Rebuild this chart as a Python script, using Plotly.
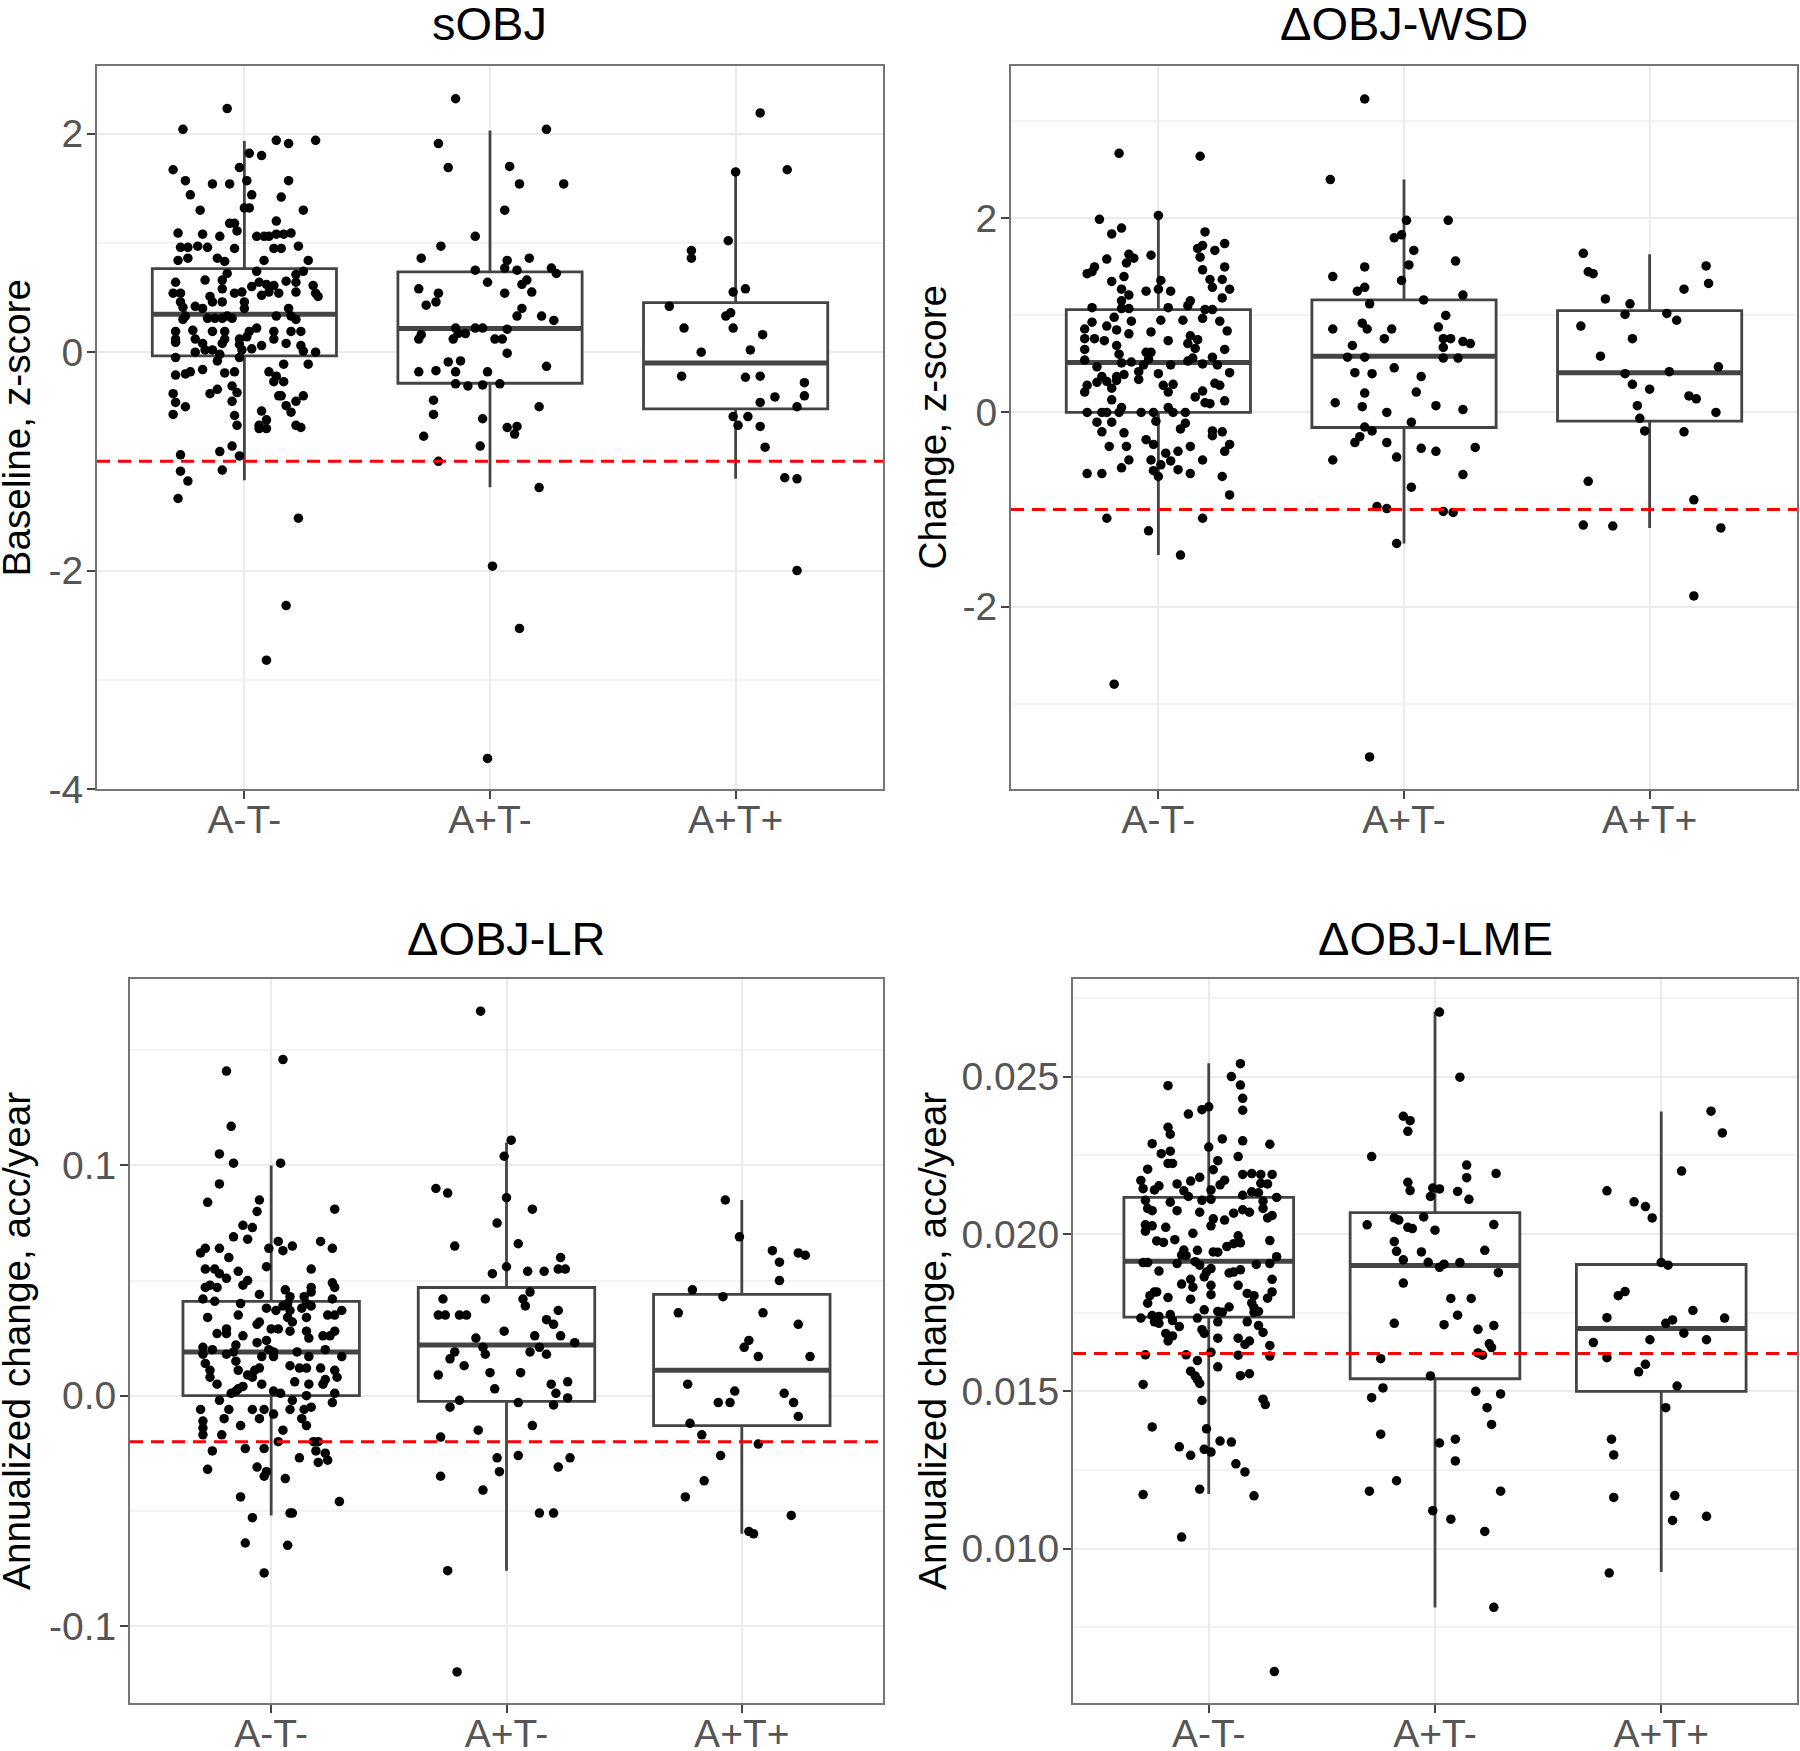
import plotly.graph_objects as go

GROUPS = ["A-T-", "A+T-", "A+T+"]

# sOBJ: baseline z-score
sobj_x1 = [0.93,0.75,1.13,1.18,1.29,1.02,1.07,0.98,0.71,0.76,0.87,0.94,1.01,1.18,0.78,1.03,1.15,0.82,1.00,1.02,1.24,1.13,0.94,0.96,0.97,0.73,0.83,0.90,1.05,1.08,1.10,1.13,1.16,1.19,0.74,0.77,0.81,0.85,0.96,1.12,1.15,1.22,0.77,0.73,0.89,0.92,1.08,1.26,0.93,1.05,1.24,1.21,0.72,0.84,0.91,1.06,1.09,1.12,1.17,1.21,1.28,1.03,0.91,0.71,0.74,0.86,0.96,0.99,1.10,1.14,1.21,1.29,1.30,0.74,0.87,0.91,1.00,1.07,0.75,0.80,0.83,1.00,1.18,0.76,0.85,0.88,0.91,0.93,0.95,1.13,1.19,1.21,0.75,0.72,0.79,0.87,0.92,1.02,1.05,1.12,1.19,1.23,0.72,0.80,0.92,0.98,1.01,1.12,0.72,0.83,0.91,0.98,1.07,1.17,1.23,0.80,0.84,0.87,0.90,0.99,1.03,1.24,1.29,0.72,0.89,0.98,1.16,1.26,0.72,0.76,0.78,0.83,0.92,0.96,1.10,1.13,1.12,1.16,0.71,0.86,0.89,0.95,0.97,1.14,1.15,1.24,0.72,0.76,0.95,1.17,1.21,1.07,1.19,0.71,0.96,1.09,0.97,1.06,1.09,1.21,1.23,1.06,0.95,0.90,0.98,0.74,0.74,0.91,0.77,0.73,1.22,1.17,1.09]
sobj_y1 = [2.23,2.04,1.94,1.91,1.94,1.82,1.80,1.69,1.67,1.57,1.54,1.54,1.57,1.57,1.44,1.44,1.42,1.30,1.32,1.32,1.30,1.20,1.18,1.18,1.11,1.09,1.08,1.06,1.06,1.06,1.06,1.08,1.08,1.09,0.96,0.96,0.97,0.96,0.95,0.95,0.95,0.97,0.86,0.84,0.86,0.83,0.84,0.84,0.72,0.74,0.74,0.71,0.64,0.66,0.66,0.64,0.62,0.61,0.65,0.64,0.61,0.60,0.58,0.54,0.54,0.51,0.54,0.55,0.55,0.54,0.55,0.54,0.51,0.46,0.46,0.46,0.46,0.52,0.41,0.42,0.40,0.40,0.40,0.33,0.31,0.31,0.31,0.33,0.31,0.33,0.33,0.30,0.30,0.19,0.20,0.19,0.19,0.19,0.22,0.19,0.19,0.19,0.12,0.12,0.12,0.12,0.14,0.12,0.09,0.08,0.08,0.07,0.06,0.08,0.06,0.00,0.02,0.02,-0.02,0.02,0.03,0.01,0.00,-0.05,-0.08,-0.05,-0.11,-0.11,-0.21,-0.20,-0.18,-0.16,-0.19,-0.18,-0.18,-0.22,-0.27,-0.27,-0.38,-0.38,-0.34,-0.31,-0.37,-0.40,-0.40,-0.40,-0.46,-0.50,-0.45,-0.49,-0.45,-0.54,-0.55,-0.57,-0.58,-0.62,-0.67,-0.67,-0.70,-0.67,-0.69,-0.70,-0.86,-0.91,-0.95,-0.94,-1.09,-1.08,-1.18,-1.34,-1.52,-2.32,-2.82]
sobj_x2 = [1.86,2.23,1.79,1.83,2.08,2.12,2.30,2.06,1.94,1.80,1.72,2.07,2.16,1.94,2.06,2.11,2.25,2.27,1.99,2.15,2.13,1.71,1.79,2.06,2.17,1.78,1.74,2.13,2.11,2.21,2.26,1.94,1.97,1.86,2.07,1.72,1.71,1.87,1.90,1.85,2.02,2.05,2.07,1.83,1.88,1.71,1.78,1.86,1.99,2.23,1.86,1.91,1.97,2.04,1.77,1.77,2.20,1.97,2.07,2.11,2.10,1.73,1.96,1.79,2.20,2.01,2.12,1.99]
sobj_y2 = [2.32,2.04,1.91,1.69,1.70,1.54,1.54,1.30,1.06,0.97,0.86,0.84,0.86,0.75,0.77,0.75,0.77,0.72,0.64,0.66,0.62,0.58,0.54,0.54,0.55,0.46,0.43,0.40,0.33,0.33,0.29,0.22,0.22,0.22,0.21,0.16,0.12,0.17,0.17,0.12,0.12,0.12,-0.01,-0.09,-0.08,-0.18,-0.17,-0.18,-0.18,-0.13,-0.29,-0.31,-0.30,-0.29,-0.44,-0.57,-0.50,-0.61,-0.69,-0.68,-0.75,-0.77,-0.86,-1.00,-1.24,-1.96,-2.53,-3.72]
sobj_x3 = [3.10,3.21,3.00,2.97,2.82,2.82,2.99,3.04,2.73,2.98,2.96,2.79,2.99,3.11,2.86,3.06,2.78,3.04,3.10,3.28,3.28,3.16,3.10,3.25,2.99,3.05,3.01,3.10,3.12,3.20,3.25,3.25]
sobj_y3 = [2.19,1.67,1.65,1.02,0.93,0.86,0.55,0.58,0.42,0.36,0.33,0.22,0.22,0.16,0.00,0.02,-0.22,-0.23,-0.22,-0.28,-0.40,-0.41,-0.46,-0.50,-0.59,-0.59,-0.67,-0.68,-0.87,-1.15,-1.16,-2.00]
sobj_q1 = [-0.035, -0.285, -0.519]
sobj_median = [0.346, 0.216, -0.10]
sobj_q3 = [0.765, 0.735, 0.454]
sobj_low = [-1.172, -1.237, -1.159]
sobj_high = [1.933, 2.03, 1.652]

# dOBJ-WSD: change, z-score
wsd_x1 = [0.84,1.17,1.00,0.76,0.85,0.81,1.19,1.27,1.16,1.18,1.23,1.17,0.88,0.90,0.87,0.97,0.79,0.74,0.71,0.73,1.27,1.18,0.86,0.81,1.01,1.21,1.26,1.22,1.29,0.85,0.95,1.00,1.05,0.88,1.26,0.85,1.13,1.12,0.73,0.85,0.88,1.04,1.19,1.22,0.82,0.89,1.01,1.10,1.18,1.25,0.73,0.79,0.70,0.83,0.97,0.88,1.28,0.70,0.74,0.78,1.04,1.13,1.12,1.16,0.83,0.70,1.27,1.15,0.95,0.97,0.84,0.96,1.22,1.14,0.70,0.85,0.89,1.12,1.05,1.18,1.24,0.75,0.94,0.92,0.86,1.00,1.29,0.77,0.83,0.92,0.79,0.83,0.75,0.71,1.02,1.06,1.23,1.25,0.70,0.81,1.04,1.18,1.15,0.81,1.19,1.21,1.27,0.85,0.71,0.77,0.79,0.84,0.93,0.98,1.04,1.06,1.11,0.99,0.75,0.81,1.11,1.09,0.77,0.86,1.22,1.26,1.22,0.95,0.80,0.87,0.98,1.13,1.29,1.08,1.27,1.03,0.88,0.97,1.18,1.05,1.01,0.85,0.98,1.08,0.71,0.77,1.00,1.13,1.26,1.29,0.79,1.18,0.96,1.09,0.82]
wsd_y1 = [2.67,2.64,2.03,1.99,1.90,1.84,1.86,1.74,1.69,1.72,1.67,1.60,1.63,1.59,1.54,1.62,1.58,1.50,1.43,1.45,1.50,1.47,1.40,1.35,1.36,1.37,1.37,1.29,1.27,1.27,1.25,1.27,1.25,1.21,1.18,1.15,1.15,1.10,1.08,1.07,1.07,1.08,1.06,1.06,0.98,0.94,0.95,0.95,0.97,0.94,0.93,0.89,0.86,0.85,0.83,0.81,0.84,0.76,0.76,0.74,0.74,0.79,0.71,0.75,0.69,0.65,0.65,0.66,0.62,0.62,0.60,0.55,0.57,0.56,0.54,0.51,0.52,0.53,0.49,0.50,0.49,0.47,0.49,0.42,0.39,0.40,0.41,0.37,0.37,0.34,0.32,0.33,0.31,0.28,0.28,0.29,0.30,0.28,0.21,0.25,0.21,0.22,0.16,0.13,0.10,0.09,0.12,0.05,0.00,0.00,0.00,0.00,0.00,0.00,0.05,0.00,0.00,-0.09,-0.10,-0.10,-0.11,-0.17,-0.20,-0.21,-0.19,-0.20,-0.24,-0.28,-0.35,-0.35,-0.33,-0.35,-0.33,-0.40,-0.40,-0.42,-0.49,-0.49,-0.49,-0.50,-0.54,-0.57,-0.60,-0.59,-0.63,-0.63,-0.66,-0.63,-0.66,-0.85,-1.09,-1.09,-1.22,-1.47,-2.80]
wsd_x2 = [1.84,1.70,2.01,2.18,1.96,1.99,2.04,2.21,2.02,1.84,1.71,1.99,1.81,1.84,2.24,1.86,2.08,2.17,1.83,1.85,1.71,1.95,2.14,1.92,2.16,2.19,2.24,2.27,1.79,2.16,1.77,1.84,2.16,2.22,1.96,1.80,1.87,2.07,2.05,1.84,1.72,1.83,2.13,2.24,1.93,2.03,1.84,1.87,1.82,1.80,1.93,2.07,2.13,2.29,1.71,1.97,2.24,2.03,1.89,1.93,2.16,2.20,1.97,1.86]
wsd_y2 = [3.23,2.40,1.98,1.98,1.80,1.83,1.67,1.56,1.52,1.50,1.40,1.36,1.25,1.29,1.21,1.12,1.16,1.00,0.92,0.86,0.86,0.86,0.88,0.76,0.76,0.76,0.73,0.71,0.69,0.67,0.57,0.57,0.56,0.56,0.46,0.41,0.40,0.37,0.21,0.20,0.10,0.06,0.07,0.03,0.00,-0.10,-0.15,-0.19,-0.25,-0.31,-0.31,-0.37,-0.40,-0.36,-0.49,-0.46,-0.64,-0.77,-0.97,-0.99,-1.02,-1.03,-1.35,-3.55]
wsd_x3 = [2.73,3.23,2.75,2.77,3.24,3.14,2.82,2.92,2.90,3.07,3.11,2.72,2.93,2.80,3.28,2.90,3.08,2.93,3.00,3.16,3.19,2.95,3.27,2.96,2.98,3.14,2.75,3.18,2.73,2.85,3.29,3.18]
wsd_y3 = [1.64,1.51,1.45,1.43,1.33,1.27,1.17,1.12,1.01,1.02,0.95,0.89,0.76,0.58,0.47,0.40,0.42,0.29,0.24,0.17,0.14,0.07,0.00,-0.06,-0.19,-0.20,-0.71,-0.90,-1.16,-1.17,-1.19,-1.89]
wsd_q1 = [0.0, -0.155, -0.09]
wsd_median = [0.515, 0.58, 0.41]
wsd_q3 = [1.06, 1.16, 1.05]
wsd_low = [-1.47, -1.35, -1.19]
wsd_high = [2.02, 2.40, 1.63]

# dOBJ-LR: annualized change, acc/year
lr_x1 = [1.05,0.81,0.83,0.78,0.84,1.04,0.78,0.73,0.95,1.27,0.94,0.88,0.92,0.84,0.90,1.21,1.03,1.09,0.72,0.70,0.78,0.99,1.05,1.26,0.82,0.72,0.76,0.86,0.98,1.17,0.78,0.81,0.90,0.88,0.72,0.74,0.77,1.26,1.27,1.17,1.06,0.95,1.17,0.71,1.08,1.14,1.26,0.76,0.87,1.07,1.15,1.05,0.98,1.02,1.08,1.13,1.17,1.30,0.86,1.24,1.27,0.73,0.95,1.07,1.15,0.94,1.09,1.08,0.77,0.81,0.81,0.88,1.00,1.03,1.15,1.22,1.25,1.27,0.94,1.16,0.98,0.85,0.71,0.75,0.84,0.99,1.01,1.23,0.81,0.71,0.96,1.01,1.11,1.16,1.30,0.72,0.85,1.08,0.74,0.95,0.86,0.93,1.12,1.15,1.21,1.27,0.90,0.92,0.74,1.28,0.77,0.96,1.10,1.16,1.23,1.22,0.85,0.86,0.83,0.88,1.01,1.04,1.15,1.27,0.78,1.09,1.26,0.70,0.82,0.92,0.97,1.01,1.08,1.14,1.17,0.71,0.80,0.95,1.13,0.71,0.87,1.15,1.05,0.71,0.79,0.89,0.97,1.03,1.18,1.20,0.75,1.19,1.23,1.12,1.24,1.20,0.73,0.94,0.98,0.97,1.06,0.87,1.29,1.08,1.09,0.92,0.89,1.07,0.97]
lr_y1 = [0.146,0.141,0.117,0.105,0.101,0.101,0.092,0.084,0.085,0.081,0.080,0.074,0.073,0.069,0.068,0.067,0.067,0.065,0.064,0.062,0.064,0.064,0.063,0.064,0.060,0.055,0.055,0.054,0.056,0.055,0.053,0.051,0.050,0.048,0.047,0.048,0.047,0.049,0.047,0.047,0.046,0.044,0.045,0.042,0.043,0.043,0.042,0.041,0.040,0.040,0.040,0.039,0.038,0.037,0.037,0.038,0.039,0.037,0.035,0.035,0.035,0.034,0.032,0.034,0.034,0.031,0.032,0.028,0.027,0.029,0.027,0.026,0.029,0.029,0.028,0.026,0.026,0.028,0.023,0.025,0.024,0.022,0.021,0.020,0.019,0.020,0.019,0.020,0.018,0.018,0.017,0.017,0.019,0.017,0.017,0.014,0.015,0.013,0.011,0.012,0.011,0.011,0.012,0.012,0.012,0.011,0.009,0.008,0.008,0.008,0.005,0.005,0.006,0.005,0.007,0.005,0.002,0.003,0.001,0.004,0.002,0.001,0.000,0.001,-0.002,-0.002,-0.003,-0.006,-0.006,-0.006,-0.006,-0.008,-0.006,-0.006,-0.005,-0.011,-0.010,-0.010,-0.010,-0.014,-0.013,-0.013,-0.015,-0.017,-0.017,-0.023,-0.023,-0.020,-0.020,-0.020,-0.024,-0.024,-0.025,-0.027,-0.028,-0.029,-0.032,-0.031,-0.033,-0.035,-0.036,-0.044,-0.046,-0.051,-0.051,-0.053,-0.064,-0.065,-0.077]
lr_x2 = [1.89,2.02,1.99,1.70,1.75,2.00,2.11,1.96,2.05,1.78,2.23,2.00,1.94,2.09,2.16,2.22,2.25,2.10,1.73,1.91,2.07,2.08,2.22,1.71,1.74,1.80,1.83,2.17,2.20,1.99,2.12,2.23,1.87,2.29,1.78,1.90,1.91,2.10,2.14,2.17,1.76,1.82,2.06,1.93,1.71,1.95,2.19,2.26,2.21,2.26,1.80,1.76,2.05,2.20,2.11,1.88,1.72,1.96,2.05,2.27,2.22,1.97,1.72,1.90,2.14,2.20,1.75,1.79]
lr_y2 = [0.167,0.111,0.104,0.090,0.088,0.086,0.081,0.075,0.066,0.065,0.060,0.056,0.053,0.054,0.054,0.055,0.055,0.045,0.042,0.042,0.042,0.039,0.037,0.035,0.035,0.035,0.035,0.033,0.031,0.028,0.026,0.026,0.025,0.023,0.019,0.021,0.018,0.019,0.021,0.018,0.016,0.013,0.010,0.010,0.009,0.003,0.005,0.006,0.001,-0.001,-0.002,-0.005,-0.003,-0.004,-0.013,-0.015,-0.018,-0.027,-0.026,-0.027,-0.031,-0.033,-0.035,-0.041,-0.051,-0.051,-0.076,-0.120]
lr_x3 = [2.93,2.99,3.13,3.24,3.27,3.16,3.16,2.79,2.92,2.73,3.09,3.24,3.03,3.01,3.07,3.29,2.77,2.97,3.18,2.90,2.95,3.22,3.24,2.78,2.83,3.07,2.91,2.84,2.76,3.21,3.03,3.05]
lr_y3 = [0.085,0.069,0.063,0.062,0.061,0.058,0.050,0.046,0.043,0.036,0.036,0.031,0.024,0.021,0.017,0.017,0.005,0.002,0.001,-0.003,-0.003,-0.003,-0.009,-0.012,-0.017,-0.021,-0.026,-0.037,-0.044,-0.052,-0.059,-0.060]
lr_q1 = [0.0, -0.0025, -0.013]
lr_median = [0.019, 0.022, 0.011]
lr_q3 = [0.041, 0.047, 0.044]
lr_low = [-0.052, -0.076, -0.060]
lr_high = [0.100, 0.110, 0.085]

# dOBJ-LME: annualized change, acc/year
lme_x1 = [1.14,1.10,0.82,1.14,1.15,1.00,0.97,1.15,0.91,0.82,0.83,1.06,1.15,0.75,1.27,1.00,0.83,0.79,1.13,1.04,0.82,0.84,0.73,1.02,1.15,1.19,1.23,1.28,0.96,0.92,1.07,0.70,0.86,1.05,1.23,1.26,0.78,0.71,0.76,1.01,0.89,1.19,1.22,0.91,1.15,0.97,1.01,1.30,0.72,0.83,1.24,0.73,0.75,0.86,0.96,1.15,1.18,1.24,1.11,1.28,1.26,1.02,1.07,0.72,0.75,0.81,1.01,0.72,0.93,0.77,0.80,0.85,1.13,1.14,1.11,1.27,1.08,0.89,0.95,1.02,1.04,0.88,0.90,1.30,0.71,0.73,0.86,0.94,0.96,1.21,1.27,0.78,1.01,0.99,0.98,1.09,1.11,1.14,1.28,0.92,0.88,1.01,1.13,0.93,0.76,0.77,0.74,1.01,1.17,1.20,1.28,0.82,0.92,1.26,0.73,1.19,1.20,0.98,1.09,1.04,1.06,1.22,1.20,0.70,0.75,0.78,0.83,0.95,0.76,0.78,0.84,1.04,1.17,0.87,1.22,0.97,0.98,0.81,1.24,0.84,0.82,1.04,1.13,1.18,1.16,1.27,0.72,0.90,1.01,1.13,1.27,0.95,1.04,0.92,0.94,1.14,1.18,0.95,0.96,0.71,0.97,1.24,1.25,0.75,0.99,1.05,1.10,0.87,0.98,1.01,0.92,1.12,1.16,0.96,0.71,1.20,0.88,1.29]
lme_y1 = [0.02541,0.02500,0.02471,0.02473,0.02431,0.02404,0.02395,0.02393,0.02381,0.02339,0.02317,0.02302,0.02296,0.02287,0.02285,0.02276,0.02263,0.02255,0.02246,0.02233,0.02224,0.02224,0.02206,0.02204,0.02189,0.02192,0.02189,0.02189,0.02180,0.02168,0.02171,0.02170,0.02159,0.02156,0.02161,0.02159,0.02153,0.02144,0.02140,0.02140,0.02137,0.02134,0.02131,0.02119,0.02123,0.02107,0.02110,0.02116,0.02107,0.02101,0.02104,0.02081,0.02074,0.02074,0.02069,0.02077,0.02069,0.02081,0.02066,0.02059,0.02051,0.02048,0.02044,0.02029,0.02026,0.02021,0.02026,0.02009,0.02002,0.01978,0.01973,0.01982,0.01994,0.01972,0.01969,0.01979,0.01960,0.01949,0.01948,0.01943,0.01942,0.01933,0.01931,0.01928,0.01909,0.01909,0.01906,0.01912,0.01901,0.01903,0.01906,0.01882,0.01890,0.01879,0.01864,0.01876,0.01879,0.01886,0.01856,0.01856,0.01841,0.01837,0.01837,0.01831,0.01816,0.01816,0.01804,0.01807,0.01811,0.01804,0.01816,0.01798,0.01793,0.01796,0.01780,0.01781,0.01766,0.01759,0.01768,0.01754,0.01751,0.01754,0.01751,0.01733,0.01741,0.01738,0.01744,0.01733,0.01721,0.01716,0.01725,0.01721,0.01721,0.01706,0.01709,0.01696,0.01684,0.01684,0.01687,0.01676,0.01660,0.01669,0.01669,0.01660,0.01649,0.01646,0.01616,0.01616,0.01624,0.01615,0.01612,0.01598,0.01578,0.01564,0.01549,0.01550,0.01556,0.01537,0.01525,0.01522,0.01471,0.01475,0.01458,0.01387,0.01381,0.01342,0.01339,0.01324,0.01316,0.01307,0.01297,0.01270,0.01244,0.01189,0.01172,0.01168,0.01037,0.00610]
lme_x2 = [2.02,2.11,1.86,1.89,1.88,1.72,2.14,2.27,2.14,1.88,1.89,1.99,2.02,2.10,1.98,2.15,1.82,1.84,1.95,1.70,1.88,1.90,2.00,2.26,1.82,1.83,1.94,2.22,1.86,1.97,2.04,2.11,2.02,2.28,1.86,2.07,2.16,2.10,1.82,2.04,2.26,2.19,2.24,2.25,2.19,2.21,1.76,1.98,1.77,2.18,2.29,1.72,2.23,2.25,1.76,2.09,2.02,2.09,1.83,1.71,2.29,1.99,2.07,2.22,2.26]
lme_y2 = [0.02705,0.02498,0.02374,0.02360,0.02326,0.02246,0.02219,0.02192,0.02179,0.02164,0.02138,0.02146,0.02143,0.02135,0.02119,0.02110,0.02051,0.02044,0.02054,0.02029,0.02021,0.02017,0.02012,0.02030,0.01976,0.01945,0.01943,0.01948,0.01918,0.01910,0.01904,0.01909,0.01894,0.01877,0.01844,0.01795,0.01795,0.01742,0.01716,0.01712,0.01709,0.01697,0.01651,0.01639,0.01622,0.01615,0.01604,0.01549,0.01511,0.01500,0.01492,0.01480,0.01448,0.01395,0.01364,0.01348,0.01336,0.01279,0.01216,0.01183,0.01183,0.01121,0.01094,0.01055,0.00814]
lme_x3 = [3.22,3.27,3.09,2.76,2.88,2.93,2.96,3.00,3.03,2.84,2.81,2.76,3.14,3.28,3.05,3.02,3.10,2.95,3.20,2.70,2.76,2.93,2.90,3.07,3.02,2.78,2.79,2.79,3.06,3.20,3.05,2.77]
lme_y3 = [0.02390,0.02321,0.02200,0.02137,0.02102,0.02087,0.02051,0.01909,0.01901,0.01817,0.01804,0.01734,0.01757,0.01733,0.01727,0.01716,0.01685,0.01664,0.01664,0.01655,0.01607,0.01586,0.01562,0.01517,0.01448,0.01348,0.01298,0.01163,0.01169,0.01103,0.01090,0.00923]
lme_q1 = [0.01736, 0.0154, 0.0150]
lme_median = [0.01913, 0.0190, 0.0170]
lme_q3 = [0.02116, 0.02068, 0.01903]
lme_low = [0.01174, 0.00813, 0.00926]
lme_high = [0.02542, 0.02705, 0.02389]

WIDTH = 1800
HEIGHT = 1751
BOX_WIDTH = 0.75
LINE_COLOR = "#444444"
BORDER_COLOR = "#757575"
GRID_COLOR = "#ebebeb"
TICK_COLOR = "#555555"
FONT = "Liberation Sans"


def add_panel(fig, n, pixels, title, title_y, ytitle, ytitle_x, yrange, cut, major, labels, minor,
              xs, ys, q1, median, q3, low, high):
    left, right, top, bottom = pixels
    xaxis = "x" + str(n)
    yaxis = "y" + str(n)

    for i in range(3):
        fig.add_trace(go.Box(
            x=[i + 1], q1=[q1[i]], median=[median[i]], q3=[q3[i]],
            lowerfence=[low[i]], upperfence=[high[i]],
            width=BOX_WIDTH, whiskerwidth=0, boxpoints=False,
            fillcolor="white", line=dict(color=LINE_COLOR, width=2.8),
            xaxis=xaxis, yaxis=yaxis, showlegend=False,
        ))
        # ggplot draws the median heavier than the box outline
        fig.add_trace(go.Scatter(
            x=[i + 1 - BOX_WIDTH / 2, i + 1 + BOX_WIDTH / 2], y=[median[i], median[i]],
            mode="lines", line=dict(color=LINE_COLOR, width=5),
            xaxis=xaxis, yaxis=yaxis, showlegend=False,
        ))
        fig.add_trace(go.Scatter(
            x=xs[i], y=ys[i], mode="markers",
            marker=dict(color="black", size=9.5),
            xaxis=xaxis, yaxis=yaxis, showlegend=False,
        ))

    fig.add_trace(go.Scatter(
        x=[0.4, 3.6], y=[cut, cut], mode="lines",
        line=dict(color="#ff0000", width=3, dash="13px,8px"),
        xaxis=xaxis, yaxis=yaxis, showlegend=False,
    ))

    axis_style = dict(
        showline=True, mirror=True, linecolor=BORDER_COLOR, linewidth=2,
        ticks="outside", ticklen=8, tickwidth=2, tickcolor=LINE_COLOR,
        tickfont=dict(family=FONT, size=39, color=TICK_COLOR),
        showgrid=True, gridcolor=GRID_COLOR, gridwidth=2, zeroline=False, automargin=False,
    )
    fig.update_layout({
        "xaxis" + str(n): dict(
            axis_style, domain=[left / WIDTH, right / WIDTH], range=[0.4, 3.6],
            anchor=yaxis, tickvals=[1, 2, 3], ticktext=GROUPS, ticklabelstandoff=-13,
        ),
        "yaxis" + str(n): dict(
            axis_style, domain=[1 - bottom / HEIGHT, 1 - top / HEIGHT], range=yrange,
            anchor=xaxis, tickvals=major, ticktext=labels, ticklabelstandoff=-4,
            minor=dict(tickvals=minor, showgrid=True, gridcolor="#f2f2f2", gridwidth=2, ticks=""),
        ),
    })

    fig.add_annotation(
        text=title, xref="paper", yref="paper", showarrow=False,
        xanchor="center", yanchor="middle",
        x=(left + right) / 2 / WIDTH, y=1 - title_y / HEIGHT,
        font=dict(family=FONT, size=47, color="black"),
    )
    fig.add_annotation(
        text=ytitle, xref="paper", yref="paper", showarrow=False, textangle=-90,
        xanchor="center", yanchor="middle",
        x=ytitle_x / WIDTH, y=1 - (top + bottom) / 2 / HEIGHT,
        font=dict(family=FONT, size=38.8, color="black"),
    )


fig = go.Figure()

add_panel(
    fig, 1, (97, 883, 66, 789), "sOBJ", 23, "Baseline, z-score", 16, [-4.0, 2.62], -1,
    [2, 0, -2, -4], ["2", "0", "-2", "-4"], [1, -1, -3],
    [sobj_x1, sobj_x2, sobj_x3], [sobj_y1, sobj_y2, sobj_y3],
    sobj_q1, sobj_median, sobj_q3, sobj_low, sobj_high,
)
add_panel(
    fig, 2, (1011, 1797, 66, 789), "ΔOBJ-WSD", 23, "Change, z-score", 932, [-3.88, 3.57], -1,
    [2, 0, -2], ["2", "0", "-2"], [3, 1, -1, -3],
    [wsd_x1, wsd_x2, wsd_x3], [wsd_y1, wsd_y2, wsd_y3],
    wsd_q1, wsd_median, wsd_q3, wsd_low, wsd_high,
)
add_panel(
    fig, 3, (130, 883, 979, 1703), "ΔOBJ-LR", 938, "Annualized change, acc/year", 16, [-0.1335, 0.181], -0.02,
    [0.1, 0.0, -0.1], ["0.1", "0.0", "-0.1"], [0.15, 0.05, -0.05],
    [lr_x1, lr_x2, lr_x3], [lr_y1, lr_y2, lr_y3],
    lr_q1, lr_median, lr_q3, lr_low, lr_high,
)
add_panel(
    fig, 4, (1073, 1797, 979, 1703), "ΔOBJ-LME", 938, "Annualized change, acc/year", 932, [0.0051, 0.0281], 0.0162,
    [0.025, 0.020, 0.015, 0.010], ["0.025", "0.020", "0.015", "0.010"], [0.0275, 0.0225, 0.0175, 0.0125, 0.0075],
    [lme_x1, lme_x2, lme_x3], [lme_y1, lme_y2, lme_y3],
    lme_q1, lme_median, lme_q3, lme_low, lme_high,
)

fig.update_layout(
    width=WIDTH, height=HEIGHT, margin=dict(l=0, r=0, t=0, b=0),
    paper_bgcolor="white", plot_bgcolor="white", showlegend=False,
)

fig.write_html("out.html", config=dict(displayModeBar=False), post_script="document.body.style.margin = '0';")
